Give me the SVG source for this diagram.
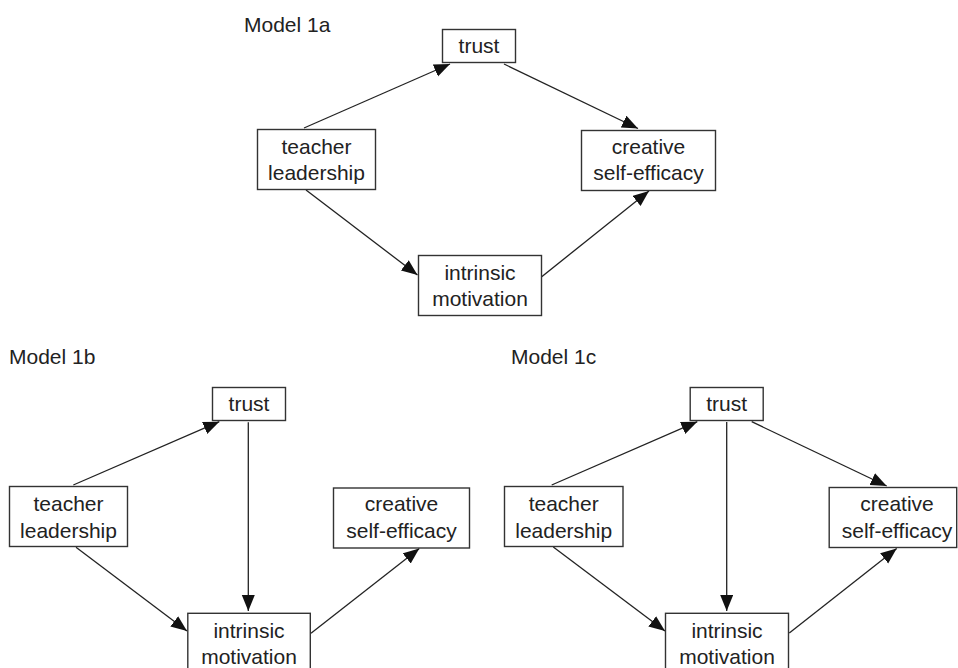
<svg xmlns="http://www.w3.org/2000/svg" width="958" height="668" viewBox="0 0 958 668">
<style>
.box{fill:#fff;stroke:#333;stroke-width:1.4}
.t{font-family:"Liberation Sans",Arial,sans-serif;font-size:21px;fill:#222;text-anchor:middle}
.title{font-family:"Liberation Sans",Arial,sans-serif;font-size:21px;fill:#222}
.c{stroke:#222;stroke-width:1.3;fill:none;marker-end:url(#ah)}
</style>
<defs>
<marker id="ah" markerUnits="userSpaceOnUse" markerWidth="17" markerHeight="14" refX="16" refY="6.5" orient="auto">
<path d="M0,0 L16,6.5 L0,13 z" fill="#111"/>
</marker>
</defs>
<rect width="958" height="668" fill="#fff"/>
<text class="title" x="244" y="32">Model 1a</text>
<text class="title" x="9" y="364">Model 1b</text>
<text class="title" x="511" y="364">Model 1c</text>
<g id="connectors">
<line class="c" x1="304" y1="128" x2="450" y2="64"/>
<line class="c" x1="306" y1="190" x2="417.5" y2="275"/>
<line class="c" x1="504" y1="64" x2="638" y2="128.5"/>
<line class="c" x1="541.7" y1="276.7" x2="649" y2="191"/>
<line class="c" x1="73.3" y1="485" x2="219.3" y2="421.7"/>
<line class="c" x1="248.3" y1="422.3" x2="248.3" y2="611"/>
<line class="c" x1="76" y1="547.3" x2="187" y2="631"/>
<line class="c" x1="311" y1="633.3" x2="419.3" y2="548.5"/>
<line class="c" x1="551.7" y1="485" x2="697.3" y2="421.7"/>
<line class="c" x1="726.7" y1="422" x2="726.7" y2="611"/>
<line class="c" x1="751.7" y1="421.7" x2="886.7" y2="486"/>
<line class="c" x1="553.3" y1="547" x2="665" y2="631"/>
<line class="c" x1="789.3" y1="633" x2="896.7" y2="548.5"/>
</g>
<g id="a-trust"><rect class="box" x="442.5" y="29.5" width="73" height="33"/><text class="t" x="479" y="53">trust</text></g>
<g id="a-teacher"><rect class="box" x="257.5" y="129.5" width="118" height="60"/><text class="t" x="316.5" y="154">teacher</text><text class="t" x="316.5" y="180">leadership</text></g>
<g id="a-intrinsic"><rect class="box" x="418.5" y="255.5" width="123" height="60"/><text class="t" x="480" y="280">intrinsic</text><text class="t" x="480" y="306">motivation</text></g>
<g id="a-creative"><rect class="box" x="581.5" y="130.5" width="134" height="60"/><text class="t" x="648.5" y="154">creative</text><text class="t" x="648.5" y="180">self-efficacy</text></g>
<g id="b-trust"><rect class="box" x="212.5" y="387.5" width="73" height="33"/><text class="t" x="249" y="411">trust</text></g>
<g id="b-teacher"><rect class="box" x="9.5" y="486.5" width="118" height="60"/><text class="t" x="68.5" y="511">teacher</text><text class="t" x="68.5" y="537.5">leadership</text></g>
<g id="b-creative"><rect class="box" x="333.5" y="488" width="136" height="60"/><text class="t" x="401.5" y="511">creative</text><text class="t" x="401.5" y="537.5">self-efficacy</text></g>
<g id="b-intrinsic"><rect class="box" x="187.8" y="613.3" width="122.5" height="62"/><text class="t" x="249" y="637.5">intrinsic</text><text class="t" x="249" y="663.5">motivation</text></g>
<g id="c-trust"><rect class="box" x="690.2" y="387.5" width="73" height="33"/><text class="t" x="726.7" y="411">trust</text></g>
<g id="c-teacher"><rect class="box" x="504.5" y="486.5" width="118.5" height="60"/><text class="t" x="563.7" y="511">teacher</text><text class="t" x="563.7" y="537.5">leadership</text></g>
<g id="c-creative"><rect class="box" x="829.2" y="487.5" width="127.5" height="60"/><text class="t" x="897" y="511">creative</text><text class="t" x="897" y="537.5">self-efficacy</text></g>
<g id="c-intrinsic"><rect class="box" x="665.5" y="613.3" width="123" height="62"/><text class="t" x="727" y="637.5">intrinsic</text><text class="t" x="727" y="663.5">motivation</text></g>
</svg>
